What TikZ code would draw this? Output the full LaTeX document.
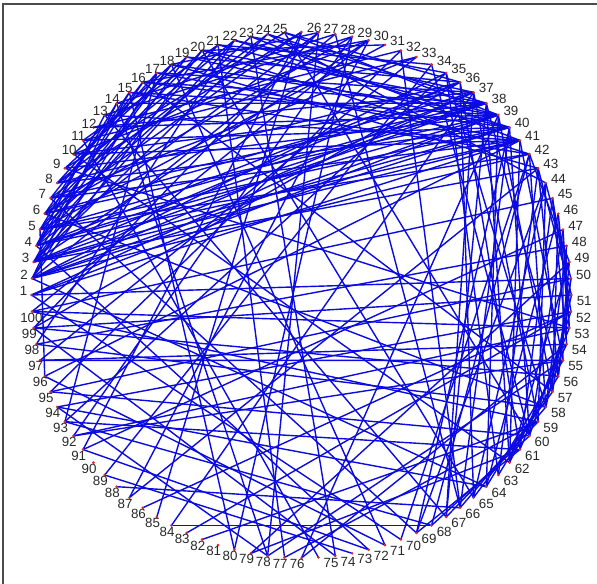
\documentclass[tikz,border=0pt]{standalone}
\usepackage{fontspec}
\setmainfont{Liberation Sans}
\usetikzlibrary{arrows.meta}
\definecolor{edgeblue}{RGB}{10,10,225}
\definecolor{dotred}{RGB}{215,45,45}
\definecolor{labelgray}{RGB}{40,40,40}

\begin{document}
\begin{tikzpicture}[x=0.75pt,y=-0.75pt,font=\small,
  vtx/.style={circle,fill=dotred,inner sep=0pt,minimum size=2.2pt},
  lbl/.style={inner sep=0pt,text=labelgray,font=\fontsize{10}{12}\selectfont},
  edge/.style={edgeblue,line width=1.05pt}]
 \useasboundingbox (0,0) rectangle (597,584);
 \draw[gray!60!black,line width=0.8pt] (3,584) -- (3,4) -- (597,4);
 % places on the circle
 \foreach \k in {1,...,100}{
   \pgfmathsetmacro\ang{180-(\k-1)*3.6}
   \coordinate (n\k) at ({301.5+270*cos(\ang)},{295-263*sin(\ang)});
 }
 % links
 \foreach \a/\b in {1/39,1/41,2/37,2/40,2/42,3/38,3/40,3/43,4/36,4/39,4/41,5/38,5/40,5/42,
   6/37,6/39,7/38,7/41,8/40,8/36,9/39,10/38,10/41,11/40,12/37,12/39,13/41,14/38,
   2/39,3/41,4/38,1/37,2/35,3/36,
   15/39,15/42,16/38,16/40,17/41,17/37,18/39,18/43,19/40,19/36,20/38,20/42,21/39,22/40,
   22/37,23/41,24/38,24/44,25/39,25/36,21/34,23/35,
   2/14,2/17,3/15,3/19,4/16,4/21,5/14,5/18,5/23,6/15,6/20,7/16,7/24,8/17,8/22,9/19,
   9/25,10/18,11/21,3/24,4/13,6/26,2/20,3/22,4/18,
   2/28,3/30,4/27,5/31,6/29,7/33,8/26,10/30,12/32,14/28,16/30,18/27,20/31,13/29,11/33,
   34/60,35/63,35/58,36/61,36/65,37/59,37/67,38/56,38/62,39/64,39/57,40/60,40/66,41/55,
   41/62,42/58,42/68,43/56,43/63,44/59,44/65,45/54,45/61,46/57,46/64,47/60,47/53,48/58,
   49/62,50/56,44/69,42/70,40/69,38/67,
   44/50,45/52,46/53,47/55,48/54,49/56,50/57,51/58,52/60,53/61,54/62,55/64,56/63,57/65,
   58/66,59/67,60/68,61/69,43/51,42/49,
   1/50,97/55,27/78,14/78,78/94,78/55,1/70,2/64,4/72,5/96,6/58,7/69,9/53,10/62,11/75,
   13/67,15/80,16/57,17/93,18/71,20/65,21/77,22/98,23/74,25/60,26/85,26/91,27/99,
   28/66,29/92,29/80,30/87,30/100,32/95,32/66,33/97,34/89,35/93,36/99,37/84,
   39/76,41/96,43/87,45/100,47/91,48/98,49/79,50/95,51/99,52/86,53/92,54/97,59/100,
   61/93,64/94,66/88,71/96,72/91,74/99,76/54,77/59,79/61,82/59,83/52,84/68,89/73,
   92/55,93/68,94/52,95/60,98/58,99/56,100/53}
   \draw[edge] (n\a) -- (n\b);
 % dots and numbers
 \foreach \k in {1,...,100}{
   \pgfmathsetmacro\ang{180-(\k-1)*3.6}
   \pgfmathsetmacro\dx{(\k>25 && \k<76) ? 5 : -12}
   \pgfmathsetmacro\dy{(\k<51) ? -4 : 6}
   \node[vtx] (d\k) at (n\k) {};
   \node[lbl,anchor=west] (l\k) at ({301.5+270*cos(\ang)+\dx},{295-263*sin(\ang)+\dy}) {\k};
 }
\end{tikzpicture}
\end{document}
